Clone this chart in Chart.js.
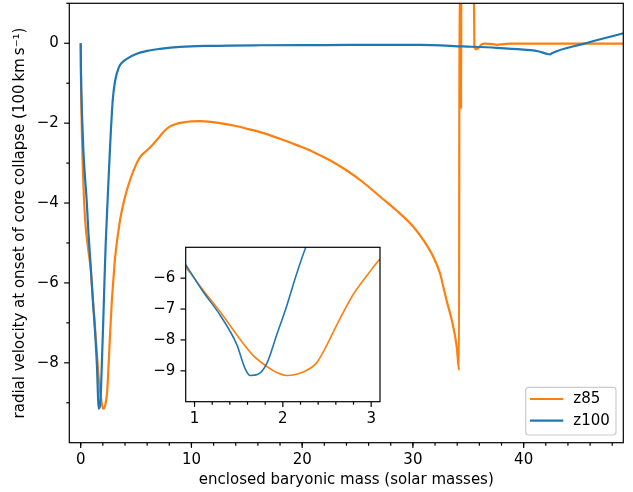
<!DOCTYPE html>
<html>
<head>
<meta charset="utf-8">
<script src="https://cdn.jsdelivr.net/npm/chart.js@4"></script>
<style>
  body { margin: 0; background: #fff; }
  #wrap { position: relative; width: 633px; height: 492px; }
  #inset { position: absolute; left: 140px; top: 240px; }
</style>
</head>
<body>
<div id="wrap">
  <canvas id="main" width="633" height="492"></canvas>
  <canvas id="inset" width="250" height="190"></canvas>
</div>
<script>
// series names
const seriesNames = ['z85', 'z100'];

// z85: enclosed mass (solar masses) / radial velocity (100 km/s)
const z85Mass = [0, 0.02, 0.06, 0.12, 0.2, 0.3, 0.45, 0.65, 0.9, 1.1, 1.29, 1.48, 1.66, 1.85, 1.95, 2.04, 2.13, 2.23, 2.38, 2.46,
  2.61, 2.79, 2.98, 3.1, 3.55, 4.0, 4.45, 4.9, 5.36, 6.0, 6.56, 7.0, 7.32, 7.7, 8.07, 8.6, 9.27, 10.0, 10.78, 11.5,
  12.58, 13.8, 15.0, 16.5, 18.0, 19.5, 21.0, 22.5, 24.0, 25.5, 27.0, 28.5, 30.0, 31.0, 31.85, 32.46, 32.75, 33.1, 33.51, 33.96,
  34.17, 34.2, 34.33, 34.35, 34.37, 35.5, 35.55, 35.7, 35.9, 36.2, 36.5, 37.2, 37.6, 38.2, 38.8, 49.0];
const z85Vel = [0, -0.8, -1.6, -2.4, -3.2, -3.93, -4.6, -5.1, -5.65, -6.4, -7.09, -7.84, -8.49, -8.92, -9.08, -9.15, -9.13, -9.04, -8.75, -8.38,
  -7.52, -6.56, -5.81, -5.38, -4.43, -3.85, -3.43, -3.1, -2.85, -2.68, -2.52, -2.38, -2.27, -2.16, -2.08, -2.02, -1.98, -1.955, -1.95, -1.96,
  -2.0, -2.06, -2.14, -2.25, -2.39, -2.55, -2.72, -2.93, -3.18, -3.48, -3.83, -4.18, -4.58, -4.95, -5.35, -5.77, -6.1, -6.5, -6.93, -7.6,
  -8.18, 1.5, 1.5, -1.65, 1.5, 1.5, -0.05, -0.15, -0.12, -0.03, -0.01, -0.02, -0.04, -0.02, -0.01, -0.01];

// z100
const z100Mass = [0, 0.02, 0.06, 0.12, 0.24, 0.4, 0.54, 0.7, 0.9, 1.1, 1.29, 1.48, 1.57, 1.63, 1.72, 1.82, 1.93, 2.04, 2.15, 2.26,
  2.45, 2.65, 2.89, 3.1, 3.45, 3.75, 4.16, 5.0, 6.0, 7.16, 9.0, 11.68, 16.2, 22.0, 30.65, 34.56, 37.58, 39.98, 41.3, 42.1,
  42.4, 42.55, 45.4, 49.0];
const z100Vel = [0, -0.6, -1.2, -1.8, -2.68, -3.4, -3.93, -4.75, -5.57, -6.45, -7.2, -8.16, -8.91, -9.15, -9.11, -8.75, -7.84, -6.93, -5.91, -5.0,
  -3.8, -2.6, -1.43, -0.95, -0.6, -0.48, -0.39, -0.27, -0.19, -0.14, -0.09, -0.065, -0.05, -0.045, -0.04, -0.08, -0.115, -0.16, -0.2, -0.265,
  -0.28, -0.25, -0.015, 0.25];

// tick labels
const mainXTicks = [0, 10, 20, 30, 40];
const mainYTicks = [-8, -6, -4, -2, 0];
const insetXTicks = [1, 2, 3];
const insetYTicks = [-9, -8, -7, -6];

const orange = '#ff7f0e';
const blue = '#1f77b4';
const FONT = { family: 'DejaVu Sans', size: 15 };

Chart.defaults.font.family = 'DejaVu Sans';
Chart.defaults.color = '#000';

const fmt = (v) => (v < 0 ? '\u2212' + Math.abs(v) : String(v));
const pts = (xs, ys) => xs.map((x, i) => ({ x: x, y: ys[i] }));

const minorRange = (from, to, step) => {
  const out = [];
  for (let i = 0; from + i * step <= to + 1e-9; i++) out.push(+(from + i * step).toFixed(3));
  return out;
};

// frame + outward ticks, matplotlib style
const axesBox = (xMinor, yMinor, fillArea) => ({
  id: 'axesBox',
  beforeDraw(chart) {
    if (!fillArea) return;
    const { ctx, chartArea: a } = chart;
    ctx.save();
    ctx.fillStyle = '#fff';
    ctx.fillRect(a.left, a.top, a.right - a.left, a.bottom - a.top);
    ctx.restore();
  },
  afterDraw(chart) {
    const { ctx, chartArea: a, scales } = chart;
    const x = scales.x, y = scales.y;
    ctx.save();
    ctx.strokeStyle = '#000';
    ctx.lineWidth = 1.2;
    ctx.strokeRect(a.left, a.top, a.right - a.left, a.bottom - a.top);
    const xt = (v, len) => {
      if (v < x.min || v > x.max) return;
      const p = x.getPixelForValue(v);
      ctx.beginPath(); ctx.moveTo(p, a.bottom); ctx.lineTo(p, a.bottom + len); ctx.stroke();
    };
    const yt = (v, len) => {
      if (v < y.min || v > y.max) return;
      const p = y.getPixelForValue(v);
      ctx.beginPath(); ctx.moveTo(a.left - len, p); ctx.lineTo(a.left, p); ctx.stroke();
    };
    x.ticks.forEach(t => xt(t.value, 5.2));
    y.ticks.forEach(t => yt(t.value, 5.2));
    xMinor.forEach(v => xt(v, 3));
    yMinor.forEach(v => yt(v, 3));
    ctx.restore();
  }
});

const legendBox = {
  id: 'legendBox',
  afterDraw(chart) {
    const { ctx, chartArea: a } = chart;
    const w = 90.3, h = 47.7;
    const x0 = a.right - 7.3 - w, y0 = a.bottom - 7.7 - h;
    ctx.save();
    ctx.beginPath();
    ctx.roundRect(x0, y0, w, h, 3);
    ctx.fillStyle = 'rgba(255,255,255,0.8)';
    ctx.fill();
    ctx.strokeStyle = '#cccccc';
    ctx.lineWidth = 1.2;
    ctx.stroke();
    const cols = [orange, blue];
    seriesNames.forEach((name, i) => {
      const ry = y0 + 11.7 + i * 21.7;
      ctx.strokeStyle = cols[i];
      ctx.lineWidth = 2.2;
      ctx.beginPath(); ctx.moveTo(x0 + 4.3, ry); ctx.lineTo(x0 + 37.6, ry); ctx.stroke();
      ctx.fillStyle = '#000';
      ctx.font = '15px "DejaVu Sans"';
      ctx.textBaseline = 'middle';
      ctx.fillText(name, x0 + 47.6, ry);
    });
    ctx.restore();
  }
};

const datasets = (lw) => [
  { label: seriesNames[0], data: pts(z85Mass, z85Vel), borderColor: orange, borderWidth: lw,
    pointRadius: 0, cubicInterpolationMode: 'monotone', order: 1, clip: 0 },
  { label: seriesNames[1], data: pts(z100Mass, z100Vel), borderColor: blue, borderWidth: lw,
    pointRadius: 0, cubicInterpolationMode: 'monotone', order: 0, clip: 0 }
];

const axisCommon = (ticks, padding) => ({
  type: 'linear',
  afterBuildTicks: (s) => { s.ticks = ticks.map(v => ({ value: v })); },
  grid: { display: false, drawTicks: false },
  border: { display: false },
  ticks: { padding: padding, color: '#000', font: FONT, callback: fmt, maxRotation: 0, autoSkip: false }
});

// fixed axis sizes, no extra label overhang padding
const fixX = (h) => (s) => { s.height = h; s.paddingLeft = 0; s.paddingRight = 0; };
const fixY = (w) => (s) => { s.width = w; s.paddingTop = 0; s.paddingBottom = 0; };

new Chart(document.getElementById('main'), {
  type: 'line',
  data: { datasets: datasets(2.2) },
  options: {
    responsive: false,
    animation: false,
    devicePixelRatio: 1,
    layout: { padding: { top: 3.3, right: 9.7, left: 0, bottom: 0 } },
    plugins: { legend: { display: false }, tooltip: { enabled: false } },
    scales: {
      x: Object.assign(axisCommon(mainXTicks, 8.6), {
        min: -1.03, max: 49,
        afterFit: fixX(49.3),
        title: { display: true, text: 'enclosed baryonic mass (solar masses)', color: '#000',
          font: FONT, padding: { top: 0, bottom: 2.5 } }
      }),
      y: Object.assign(axisCommon(mainYTicks, 10.4), {
        min: -10, max: 1,
        afterFit: fixY(69.3),
        title: { display: true, text: 'radial velocity at onset of core collapse (100\u2009km\u2009s\u207b\u00b9)',
          color: '#000', font: FONT, padding: { top: 11, bottom: 0 } }
      })
    }
  },
  plugins: [axesBox(minorRange(0, 48, 2), minorRange(-9, 1, 2), false), legendBox]
});

new Chart(document.getElementById('inset'), {
  type: 'line',
  data: { datasets: datasets(1.6) },
  options: {
    responsive: false,
    animation: false,
    devicePixelRatio: 1,
    layout: { padding: { top: 7.3, right: 10, left: 0, bottom: 0 } },
    plugins: { legend: { display: false }, tooltip: { enabled: false } },
    scales: {
      x: Object.assign(axisCommon(insetXTicks, 8.6), {
        min: 0.9, max: 3.1,
        afterFit: fixX(28.3)
      }),
      y: Object.assign(axisCommon(insetYTicks, 10.4), {
        min: -10, max: -5,
        afterFit: fixY(45.7)
      })
    }
  },
  plugins: [axesBox(minorRange(1.2, 2.8, 0.2).filter(v => Math.abs(v - 2) > 1e-6), [], true)]
});
</script>
</body>
</html>
